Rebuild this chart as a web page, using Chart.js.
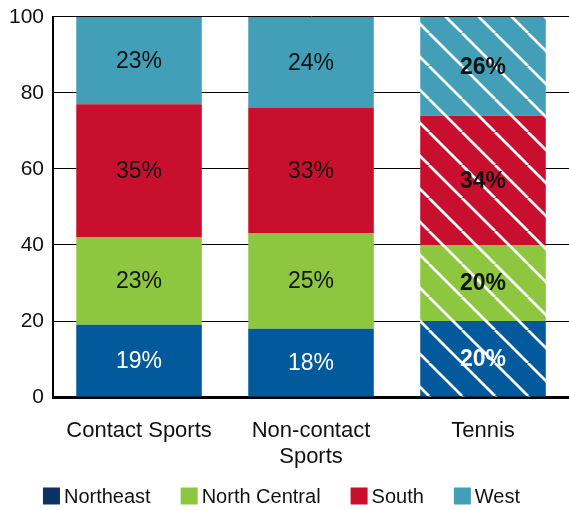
<!DOCTYPE html>
<html>
<head>
<meta charset="utf-8">
<script src="https://cdn.jsdelivr.net/npm/chart.js@4"></script>
<style>
  html, body { margin: 0; padding: 0; background: #fff; }
  .wrap { width: 569px; height: 510px; }
</style>
</head>
<body>
<div class="wrap"><canvas id="regionChart"></canvas></div>
<script>
// data
const categories = ['Contact Sports', ['Non-contact', 'Sports'], 'Tennis'];
const northeast = [19, 18, 20];
const northCentral = [23, 25, 20];
const south = [35, 33, 34];
const west = [23, 24, 26];
const yTicks = [0, 20, 40, 60, 80, 100];

const FONT = '"Liberation Sans", Arial, Helvetica, sans-serif';

// 斜线填充 (only for the Tennis bar)
function hatch(color) {
    const size = 33;
    const c = document.createElement('canvas');
    c.width = size; c.height = size;
    const g = c.getContext('2d');
    g.fillStyle = color;
    g.fillRect(0, 0, size, size);
    g.strokeStyle = '#fff';
    g.lineWidth = 2.7;
    g.beginPath();
    for (let k = -1; k <= 1; k++) {
        g.moveTo(k * size, 0);
        g.lineTo(k * size + size, size);
    }
    g.stroke();
    return g.createPattern(c, 'repeat');
}

function fills(color) {
    return [color, color, hatch(color)];
}

const series = [
    { label: 'Northeast', data: northeast, color: '#02599b', legend: '#0c3263', text: '#fff' },
    { label: 'North Central', data: northCentral, color: '#8dc63f', legend: '#8dc63f', text: '#111' },
    { label: 'South', data: south, color: '#c8102e', legend: '#c8102e', text: '#111' },
    { label: 'West', data: west, color: '#429fb7', legend: '#429fb7', text: '#111' }
];

// 在每段中间写百分比
const valueLabels = {
    id: 'valueLabels',
    afterDatasetsDraw(chart) {
        const ctx = chart.ctx;
        ctx.save();
        ctx.textAlign = 'center';
        ctx.textBaseline = 'middle';
        chart.data.datasets.forEach((ds, i) => {
            const meta = chart.getDatasetMeta(i);
            meta.data.forEach((bar, j) => {
                const y = (bar.y + bar.base) / 2;
                ctx.fillStyle = series[i].text;
                ctx.font = (j === 2 ? 'bold ' : '') + '23px ' + FONT;
                ctx.fillText(ds.data[j] + '%', bar.x, y + 1);
            });
        });
        ctx.restore();
    }
};

// 底部图例 (drawn by hand so the spacing matches)
const bottomLegend = {
    id: 'bottomLegend',
    afterDraw(chart) {
        const ctx = chart.ctx;
        const box = 17, gap = 4, space = 30;
        const cy = chart.height - 14;
        ctx.save();
        ctx.font = '20px ' + FONT;
        ctx.textBaseline = 'middle';
        const widths = series.map(s => ctx.measureText(s.label).width);
        const total = widths.reduce((a, w) => a + box + gap + w, 0) + space * (series.length - 1);
        let x = chart.width / 2 - 3 - total / 2;
        series.forEach((s, i) => {
            ctx.fillStyle = s.legend;
            ctx.fillRect(x, cy - box / 2, box, box);
            ctx.fillStyle = '#111';
            ctx.fillText(s.label, x + box + gap, cy + 1);
            x += box + gap + widths[i] + space;
        });
        ctx.restore();
    }
};

const chartData = {
    labels: categories,
    datasets: series.map(s => ({
        label: s.label,
        data: s.data,
        backgroundColor: fills(s.color),
        borderWidth: 0,
        barPercentage: 0.73,
        categoryPercentage: 1
    }))
};

const config = {
    type: 'bar',
    data: chartData,
    options: {
        responsive: true,
        maintainAspectRatio: false,
        animation: false,
        layout: { padding: { top: 0, right: 0, left: 0, bottom: 19 } },
        plugins: {
            tooltip: { enabled: false },
            legend: { display: false }
        },
        scales: {
            x: {
                stacked: true,
                grid: { display: false, drawTicks: false },
                border: { display: true, color: '#000', width: 3 },
                ticks: {
                    color: '#111',
                    padding: 21,
                    maxRotation: 0,
                    font: { family: FONT, size: 22, lineHeight: 1.18 }
                }
            },
            y: {
                stacked: true,
                min: 0,
                max: 100,
                afterBuildTicks: axis => { axis.ticks = yTicks.map(v => ({ value: v })); },
                grid: { color: '#000', lineWidth: 1, drawTicks: false },
                border: { display: true, color: '#000', width: 2 },
                ticks: {
                    color: '#111',
                    padding: 9,
                    font: { family: FONT, size: 21, lineHeight: 0.75 }
                }
            }
        }
    },
    plugins: [valueLabels, bottomLegend]
};

const regionChart = new Chart(document.getElementById('regionChart'), config);
</script>
</body>
</html>
